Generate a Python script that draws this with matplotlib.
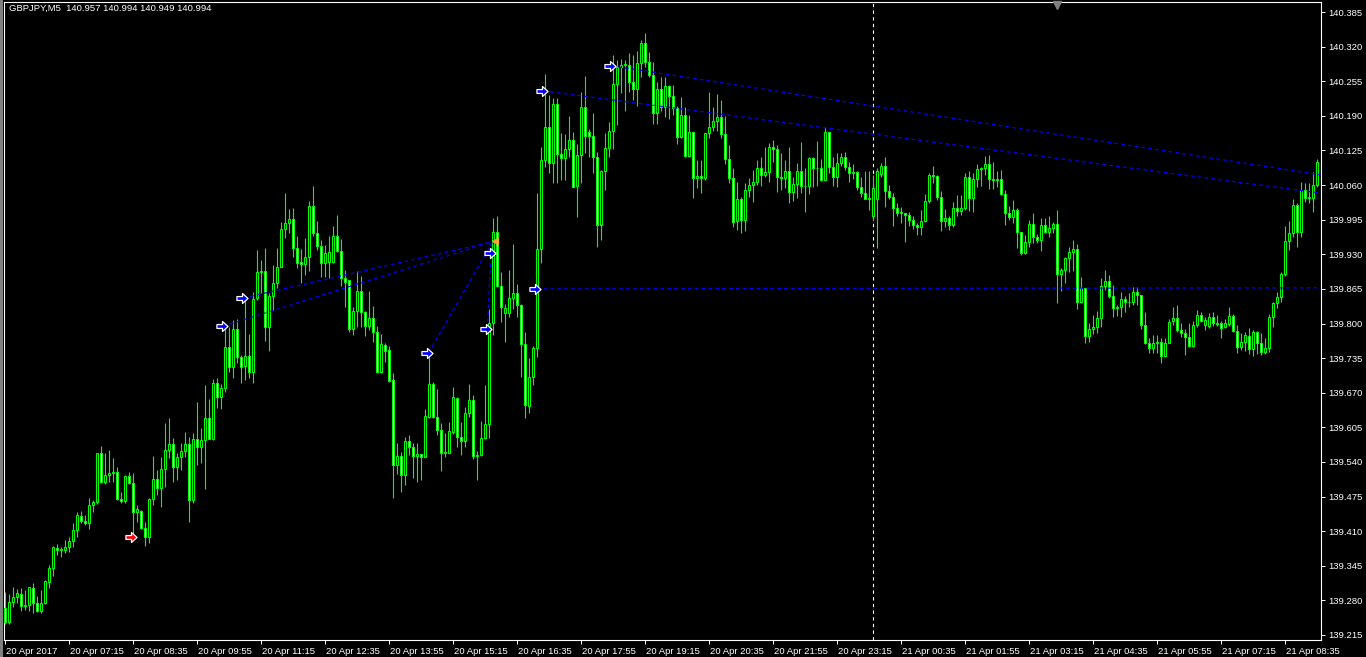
import numpy as np
import matplotlib
matplotlib.use("Agg")
import matplotlib.pyplot as plt
from matplotlib.path import Path
from matplotlib.patches import Rectangle
import matplotlib.transforms as mtransforms

plt.rcParams['font.family'] = ['Liberation Sans', 'DejaVu Sans']

# GBPJPY M5 bars, 20 Apr 2017 05:55 -> 21 Apr 09:15
opens = [
    139.266, 139.239, 139.277, 139.286, 139.292, 139.269, 139.271, 139.303, 139.275, 139.260,
    139.275, 139.315, 139.341, 139.378, 139.375, 139.375, 139.380, 139.392, 139.412, 139.438,
    139.429, 139.425, 139.459, 139.465, 139.557, 139.502, 139.515, 139.519, 139.521, 139.470,
    139.467, 139.513, 139.500, 139.446, 139.448, 139.416, 139.399, 139.470, 139.508, 139.491,
    139.527, 139.562, 139.574, 139.530, 139.549, 139.561, 139.574, 139.468, 139.583, 139.568,
    139.581, 139.623, 139.583, 139.688, 139.662, 139.679, 139.756, 139.718, 139.790, 139.737,
    139.720, 139.739, 139.709, 139.848, 139.897, 139.899, 139.793, 139.852, 139.876, 139.906,
    139.977, 139.989, 139.996, 139.942, 139.916, 139.912, 139.925, 140.021, 139.970, 139.946,
    139.914, 139.916, 139.916, 139.964, 139.936, 139.885, 139.882, 139.790, 139.823, 139.861,
    139.822, 139.795, 139.810, 139.784, 139.709, 139.760, 139.750, 139.694, 139.534, 139.551,
    139.515, 139.579, 139.568, 139.551, 139.555, 139.549, 139.624, 139.686, 139.624, 139.600,
    139.557, 139.557, 139.596, 139.660, 139.587, 139.579, 139.632, 139.656, 139.551, 139.553,
    139.585, 139.611, 139.801, 139.972, 139.870, 139.820, 139.820, 139.848, 139.857, 139.835,
    139.761, 139.645, 139.700, 139.754, 139.940, 140.107, 140.169, 140.101, 140.212, 140.118,
    140.111, 140.128, 140.145, 140.058, 140.116, 140.207, 140.160, 140.152, 140.113, 139.985,
    140.086, 140.130, 140.161, 140.250, 140.282, 140.285, 140.285, 140.254, 140.240, 140.289,
    140.327, 140.291, 140.267, 140.195, 140.240, 140.207, 140.246, 140.227, 140.205, 140.150,
    140.192, 140.115, 140.160, 140.073, 140.077, 140.073, 140.158, 140.169, 140.180, 140.188,
    140.156, 140.109, 140.073, 139.992, 140.034, 139.994, 140.051, 140.060, 140.066, 140.092,
    140.079, 140.085, 140.131, 140.128, 140.075, 140.073, 140.086, 140.047, 140.062, 140.086,
    140.058, 140.058, 140.111, 140.092, 140.092, 140.069, 140.160, 140.094, 140.075, 140.101,
    140.113, 140.094, 140.083, 140.085, 140.056, 140.045, 140.034, 140.002, 140.034, 140.081,
    140.096, 140.049, 140.038, 140.017, 140.008, 140.008, 140.004, 139.994, 139.985, 139.981,
    139.992, 140.030, 140.079, 140.077, 140.038, 139.992, 139.998, 139.985, 140.017, 140.011,
    140.017, 140.075, 140.036, 140.071, 140.090, 140.092, 140.100, 140.071, 140.069, 140.071,
    140.043, 140.008, 140.000, 140.013, 139.972, 139.932, 139.953, 139.987, 139.962, 139.957,
    139.985, 139.972, 139.979, 139.987, 139.893, 139.900, 139.923, 139.934, 139.940, 139.840,
    139.867, 139.777, 139.790, 139.793, 139.810, 139.870, 139.880, 139.852, 139.829, 139.831,
    139.846, 139.840, 139.840, 139.859, 139.854, 139.797, 139.763, 139.754, 139.763, 139.765,
    139.739, 139.763, 139.805, 139.810, 139.788, 139.782, 139.775, 139.758, 139.797, 139.816,
    139.797, 139.795, 139.812, 139.801, 139.801, 139.793, 139.799, 139.814, 139.786, 139.756,
    139.765, 139.777, 139.752, 139.784, 139.763, 139.746, 139.754, 139.812, 139.839, 139.850,
    139.893, 139.955, 139.970, 140.023, 139.972, 140.051, 140.036, 140.036, 140.060,
]

highs = [
    139.296, 139.292, 139.305, 139.301, 139.303, 139.299, 139.305, 139.313, 139.288, 139.299,
    139.318, 139.346, 139.382, 139.386, 139.380, 139.393, 139.399, 139.425, 139.446, 139.448,
    139.440, 139.472, 139.468, 139.557, 139.570, 139.557, 139.562, 139.547, 139.530, 139.483,
    139.515, 139.521, 139.519, 139.459, 139.450, 139.427, 139.472, 139.551, 139.525, 139.549,
    139.613, 139.623, 139.585, 139.557, 139.576, 139.596, 139.587, 139.594, 139.653, 139.604,
    139.685, 139.658, 139.696, 139.698, 139.686, 139.793, 139.793, 139.806, 139.808, 139.741,
    139.848, 139.780, 139.859, 139.938, 139.919, 139.942, 139.857, 139.910, 139.942, 139.991,
    140.045, 140.015, 140.017, 139.964, 139.940, 139.961, 140.030, 140.058, 139.992, 139.957,
    139.947, 139.964, 139.983, 140.004, 139.959, 139.900, 139.882, 139.831, 139.899, 139.889,
    139.823, 139.861, 139.833, 139.795, 139.780, 139.763, 139.758, 139.707, 139.576, 139.559,
    139.587, 139.591, 139.576, 139.576, 139.555, 139.639, 139.741, 139.690, 139.677, 139.613,
    139.594, 139.615, 139.681, 139.662, 139.615, 139.643, 139.686, 139.666, 139.561, 139.617,
    139.685, 139.827, 139.998, 140.002, 139.897, 139.837, 139.900, 139.949, 139.874, 139.837,
    139.784, 139.735, 139.758, 140.045, 140.131, 140.269, 140.229, 140.224, 140.224, 140.158,
    140.156, 140.190, 140.160, 140.137, 140.235, 140.265, 140.165, 140.195, 140.122, 140.088,
    140.158, 140.178, 140.304, 140.295, 140.297, 140.295, 140.308, 140.304, 140.312, 140.332,
    140.346, 140.310, 140.291, 140.254, 140.263, 140.263, 140.248, 140.248, 140.208, 140.225,
    140.207, 140.192, 140.160, 140.107, 140.107, 140.158, 140.235, 140.207, 140.231, 140.220,
    140.190, 140.135, 140.092, 140.066, 140.038, 140.064, 140.073, 140.088, 140.107, 140.113,
    140.131, 140.139, 140.145, 140.135, 140.120, 140.107, 140.131, 140.075, 140.101, 140.141,
    140.092, 140.113, 140.113, 140.143, 140.109, 140.169, 140.160, 140.113, 140.120, 140.120,
    140.122, 140.103, 140.100, 140.086, 140.075, 140.086, 140.086, 140.079, 140.092, 140.101,
    140.113, 140.060, 140.045, 140.026, 140.019, 140.008, 140.009, 140.002, 139.989, 140.013,
    140.043, 140.083, 140.096, 140.079, 140.049, 140.015, 140.002, 140.028, 140.041, 140.041,
    140.083, 140.086, 140.083, 140.100, 140.094, 140.115, 140.116, 140.103, 140.086, 140.088,
    140.051, 140.021, 140.032, 140.017, 139.972, 139.966, 139.994, 140.008, 139.968, 139.998,
    139.998, 140.002, 139.991, 140.013, 139.904, 139.925, 139.944, 139.957, 139.949, 139.887,
    139.867, 139.801, 139.816, 139.823, 139.885, 139.900, 139.891, 139.872, 139.835, 139.859,
    139.852, 139.857, 139.869, 139.869, 139.854, 139.822, 139.773, 139.778, 139.778, 139.773,
    139.773, 139.808, 139.831, 139.835, 139.801, 139.790, 139.801, 139.805, 139.825, 139.822,
    139.812, 139.820, 139.822, 139.816, 139.805, 139.808, 139.831, 139.818, 139.797, 139.782,
    139.784, 139.792, 139.788, 139.786, 139.782, 139.773, 139.818, 139.840, 139.859, 139.897,
    139.983, 139.992, 140.034, 140.026, 140.066, 140.064, 140.064, 140.084, 140.109,
]

lows = [
    139.236, 139.236, 139.268, 139.275, 139.260, 139.262, 139.260, 139.256, 139.258, 139.256,
    139.273, 139.303, 139.326, 139.365, 139.362, 139.369, 139.371, 139.380, 139.399, 139.425,
    139.422, 139.414, 139.446, 139.461, 139.500, 139.499, 139.502, 139.502, 139.468, 139.463,
    139.463, 139.499, 139.399, 139.427, 139.414, 139.382, 139.388, 139.459, 139.478, 139.455,
    139.493, 139.547, 139.502, 139.506, 139.525, 139.549, 139.427, 139.463, 139.534, 139.538,
    139.489, 139.583, 139.581, 139.641, 139.639, 139.671, 139.709, 139.698, 139.726, 139.688,
    139.694, 139.698, 139.688, 139.844, 139.857, 139.767, 139.748, 139.825, 139.867, 139.906,
    139.961, 139.970, 139.925, 139.904, 139.876, 139.891, 139.899, 139.964, 139.938, 139.887,
    139.887, 139.885, 139.914, 139.934, 139.870, 139.831, 139.784, 139.778, 139.793, 139.793,
    139.777, 139.788, 139.765, 139.707, 139.707, 139.728, 139.690, 139.472, 139.517, 139.483,
    139.497, 139.553, 139.510, 139.502, 139.506, 139.549, 139.623, 139.623, 139.591, 139.523,
    139.549, 139.557, 139.592, 139.568, 139.553, 139.568, 139.624, 139.546, 139.506, 139.551,
    139.583, 139.585, 139.778, 139.869, 139.803, 139.765, 139.812, 139.827, 139.812, 139.700,
    139.623, 139.632, 139.685, 139.737, 139.914, 140.094, 140.083, 140.064, 140.064, 140.069,
    140.069, 140.113, 140.056, 140.000, 140.064, 140.120, 140.113, 140.083, 139.944, 139.957,
    140.051, 140.113, 140.128, 140.173, 140.233, 140.199, 140.235, 140.220, 140.208, 140.263,
    140.282, 140.263, 140.175, 140.175, 140.199, 140.188, 140.184, 140.192, 140.137, 140.148,
    140.113, 140.113, 140.036, 140.054, 140.045, 140.069, 140.148, 140.161, 140.161, 140.148,
    140.100, 140.064, 139.981, 139.976, 139.970, 139.974, 140.038, 140.028, 140.060, 140.058,
    140.075, 140.066, 140.103, 140.047, 140.051, 140.054, 140.026, 140.030, 140.036, 140.045,
    140.009, 140.043, 140.056, 140.058, 140.068, 140.069, 140.083, 140.058, 140.056, 140.096,
    140.088, 140.066, 140.071, 140.051, 140.038, 140.034, 140.013, 139.994, 139.942, 140.075,
    140.019, 140.034, 139.983, 140.002, 139.989, 139.953, 139.983, 139.977, 139.966, 139.966,
    139.991, 140.026, 140.064, 140.032, 139.974, 139.981, 139.976, 139.981, 140.002, 140.004,
    140.013, 140.011, 140.009, 140.056, 140.058, 140.079, 140.053, 140.053, 140.056, 140.041,
    139.985, 139.994, 139.989, 139.942, 139.929, 139.930, 139.944, 139.951, 139.951, 139.936,
    139.970, 139.962, 139.970, 139.839, 139.861, 139.876, 139.897, 139.899, 139.827, 139.839,
    139.763, 139.765, 139.780, 139.782, 139.793, 139.863, 139.848, 139.812, 139.814, 139.812,
    139.822, 139.831, 139.835, 139.835, 139.790, 139.761, 139.745, 139.745, 139.745, 139.726,
    139.737, 139.763, 139.797, 139.784, 139.775, 139.741, 139.756, 139.756, 139.793, 139.803,
    139.788, 139.792, 139.795, 139.795, 139.773, 139.792, 139.795, 139.784, 139.745, 139.750,
    139.748, 139.743, 139.739, 139.743, 139.741, 139.743, 139.746, 139.793, 139.829, 139.840,
    139.889, 139.938, 139.962, 139.944, 139.962, 140.028, 140.026, 140.009, 140.056,
]

closes = [
    139.239, 139.277, 139.286, 139.294, 139.269, 139.271, 139.305, 139.275, 139.260, 139.275,
    139.316, 139.341, 139.380, 139.375, 139.377, 139.380, 139.392, 139.412, 139.440, 139.429,
    139.425, 139.459, 139.465, 139.557, 139.502, 139.515, 139.519, 139.521, 139.470, 139.467,
    139.513, 139.500, 139.446, 139.452, 139.416, 139.399, 139.470, 139.508, 139.491, 139.527,
    139.562, 139.574, 139.530, 139.549, 139.561, 139.574, 139.468, 139.583, 139.568, 139.581,
    139.623, 139.583, 139.688, 139.662, 139.679, 139.756, 139.718, 139.790, 139.737, 139.718,
    139.739, 139.709, 139.846, 139.897, 139.899, 139.793, 139.852, 139.876, 139.906, 139.977,
    139.989, 139.996, 139.942, 139.914, 139.912, 139.925, 140.021, 139.970, 139.946, 139.914,
    139.932, 139.934, 139.964, 139.936, 139.885, 139.878, 139.790, 139.823, 139.861, 139.822,
    139.795, 139.810, 139.784, 139.709, 139.761, 139.748, 139.692, 139.534, 139.551, 139.515,
    139.579, 139.568, 139.551, 139.555, 139.549, 139.626, 139.686, 139.624, 139.600, 139.557,
    139.559, 139.598, 139.662, 139.587, 139.579, 139.632, 139.656, 139.551, 139.553, 139.585,
    139.611, 139.801, 139.972, 139.870, 139.831, 139.829, 139.848, 139.857, 139.835, 139.761,
    139.647, 139.700, 139.754, 139.940, 140.107, 140.169, 140.101, 140.212, 140.118, 140.111,
    140.128, 140.145, 140.056, 140.116, 140.207, 140.152, 140.152, 140.113, 139.985, 140.086,
    140.130, 140.161, 140.250, 140.282, 140.285, 140.287, 140.254, 140.240, 140.289, 140.327,
    140.291, 140.267, 140.195, 140.240, 140.207, 140.246, 140.227, 140.205, 140.150, 140.192,
    140.115, 140.160, 140.073, 140.077, 140.073, 140.158, 140.169, 140.180, 140.188, 140.156,
    140.109, 140.073, 139.991, 140.034, 139.994, 140.051, 140.060, 140.066, 140.092, 140.079,
    140.085, 140.131, 140.128, 140.075, 140.073, 140.086, 140.047, 140.062, 140.086, 140.058,
    140.058, 140.111, 140.092, 140.092, 140.069, 140.160, 140.094, 140.075, 140.101, 140.113,
    140.094, 140.083, 140.085, 140.056, 140.045, 140.034, 140.036, 140.054, 140.086, 140.096,
    140.049, 140.038, 140.017, 140.008, 140.009, 140.004, 139.994, 139.985, 139.981, 139.992,
    140.030, 140.079, 140.077, 140.038, 139.992, 139.998, 139.985, 140.017, 140.011, 140.017,
    140.075, 140.036, 140.071, 140.090, 140.092, 140.100, 140.071, 140.069, 140.071, 140.043,
    140.008, 140.000, 140.013, 139.972, 139.932, 139.953, 139.987, 139.962, 139.957, 139.985,
    139.972, 139.979, 139.987, 139.893, 139.900, 139.923, 139.934, 139.940, 139.840, 139.867,
    139.777, 139.790, 139.793, 139.810, 139.870, 139.880, 139.852, 139.829, 139.831, 139.846,
    139.840, 139.841, 139.859, 139.854, 139.797, 139.763, 139.754, 139.763, 139.765, 139.739,
    139.763, 139.803, 139.810, 139.788, 139.782, 139.775, 139.758, 139.797, 139.816, 139.805,
    139.806, 139.812, 139.801, 139.799, 139.792, 139.801, 139.814, 139.786, 139.756, 139.765,
    139.778, 139.752, 139.784, 139.763, 139.746, 139.754, 139.812, 139.839, 139.850, 139.893,
    139.955, 139.970, 140.023, 139.972, 140.051, 140.036, 140.037, 140.060, 140.103,
]

assert len(opens) == len(highs) == len(lows) == len(closes), (len(opens), len(highs), len(lows), len(closes))

# time axis (every 16 bars)
time_ticks = [0, 16, 32, 48, 64, 80, 96, 112, 128, 144, 160, 176, 192, 208, 224, 240, 256, 272, 288, 304, 320]
time_labels = ['20 Apr 2017', '20 Apr 07:15', '20 Apr 08:35', '20 Apr 09:55', '20 Apr 11:15',
               '20 Apr 12:35', '20 Apr 13:55', '20 Apr 15:15', '20 Apr 16:35', '20 Apr 17:55',
               '20 Apr 19:15', '20 Apr 20:35', '20 Apr 21:55', '20 Apr 23:15', '21 Apr 00:35',
               '21 Apr 01:55', '21 Apr 03:15', '21 Apr 04:35', '21 Apr 05:55', '21 Apr 07:15',
               '21 Apr 08:35']
price_ticks = [139.215, 139.280, 139.345, 139.410, 139.475, 139.540, 139.605, 139.670, 139.735,
               139.800, 139.865, 139.930, 139.995, 140.060, 140.125, 140.190, 140.255, 140.320, 140.385]
day_start_bar = 217

# trade history: arrows (bar, price) and connecting dotted lines
buy_arrows_x = [54.25, 59.25, 105.5, 121.25, 120.25, 132.5, 134.25, 151.25]
buy_arrows_y = [139.795, 139.848, 139.745, 139.932, 139.790, 139.865, 140.237, 140.284]
sell_arrow_x = [31.5]
sell_arrow_y = [139.399]
close_mark_x = [122.5]
close_mark_y = [139.955]
trade_lines = [
    ((54.6, 139.795), (121.6, 139.953)),
    ((59.6, 139.848), (121.6, 139.953)),
    ((105.9, 139.745), (122.0, 139.955)),
    ((120.6, 139.790), (121.6, 139.950)),
    ((132.9, 139.865), (329.0, 139.867)),
    ((134.6, 140.237), (329.0, 140.045)),
    ((151.6, 140.284), (329.0, 140.079)),
]

LIME = '#00FF00'
W, H = 1366, 657
fig = plt.figure(figsize=(W / 100, H / 100), dpi=100, facecolor='black')
ax = fig.add_axes([4 / W, (H - 640) / H, (1321 - 4) / W, (640 - 2) / H])
ax.set_facecolor('black')

x = np.arange(len(closes))
o = np.array(opens)
c = np.array(closes)
hi = np.array(highs)
lo = np.array(lows)

ax.vlines(x, lo, hi, color=LIME, linewidth=0.8, zorder=2)
bull = c >= o
fills = np.where(bull, 'black', 'white')
ax.bar(x, np.abs(c - o), bottom=np.minimum(o, c), width=0.5, color=fills,
       edgecolor=LIME, linewidth=0.75, zorder=3)

# day separator
ax.axvline(day_start_bar, color='white', linestyle=(0, (3, 3)), linewidth=0.8, zorder=1)

for (x0, y0), (x1, y1) in trade_lines:
    ax.plot([x0, x1], [y0, y1], color='#0000FF', linewidth=0.9,
            linestyle=(0, (3, 2.5)), zorder=4)

arrow = Path([(-1, -0.35), (0, -0.35), (0, -0.9), (1, 0), (0, 0.9), (0, 0.35), (-1, 0.35), (-1, -0.35)],
             [Path.MOVETO] + [Path.LINETO] * 6 + [Path.CLOSEPOLY])
ax.plot(buy_arrows_x, buy_arrows_y, linestyle='none', marker=arrow, markersize=8,
        markerfacecolor='#0000FF', markeredgecolor='white', markeredgewidth=0.9, zorder=6)
ax.plot(sell_arrow_x, sell_arrow_y, linestyle='none', marker=arrow, markersize=8,
        markerfacecolor='#FF0000', markeredgecolor='white', markeredgewidth=0.9, zorder=6)
ax.plot(close_mark_x, close_mark_y, linestyle='none', marker='<', markersize=5,
        color='#FFA040', zorder=6)

# chart shift marker at the top
trans = mtransforms.blended_transform_factory(ax.transData, ax.transAxes)
ax.plot([263], [0.996], marker='v', markersize=6, color='#808080', transform=trans,
        clip_on=False, zorder=7)

ax.set_xlim(-0.25, 329)
ax.set_ylim(139.2056, 140.4038)

ax.yaxis.tick_right()
ax.set_yticks(price_ticks)
ax.set_yticklabels([f'{p:.3f}' for p in price_ticks])
ax.set_xticks(time_ticks)
ax.set_xticklabels(time_labels)
ax.tick_params(axis='both', colors='white', labelcolor='white', labelsize=6.8,
               direction='out', length=3, width=0.7, pad=2)
offset = mtransforms.ScaledTranslation(1 / 100, 0, fig.dpi_scale_trans)
for lbl in ax.get_xticklabels():
    lbl.set_horizontalalignment('left')
    lbl.set_transform(lbl.get_transform() + offset)

for s in ax.spines.values():
    s.set_color('white')
    s.set_linewidth(0.8)

fig.patches.append(Rectangle((0, 0), 3 / W, 1, transform=fig.transFigure,
                             facecolor='#808080', edgecolor='none'))
fig.text(9 / W, 1 - 8 / H, 'GBPJPY,M5  140.957 140.994 140.949 140.994',
         color='white', fontsize=6.8, va='center', ha='left')

fig.savefig('out.png', dpi=100, facecolor='black')
